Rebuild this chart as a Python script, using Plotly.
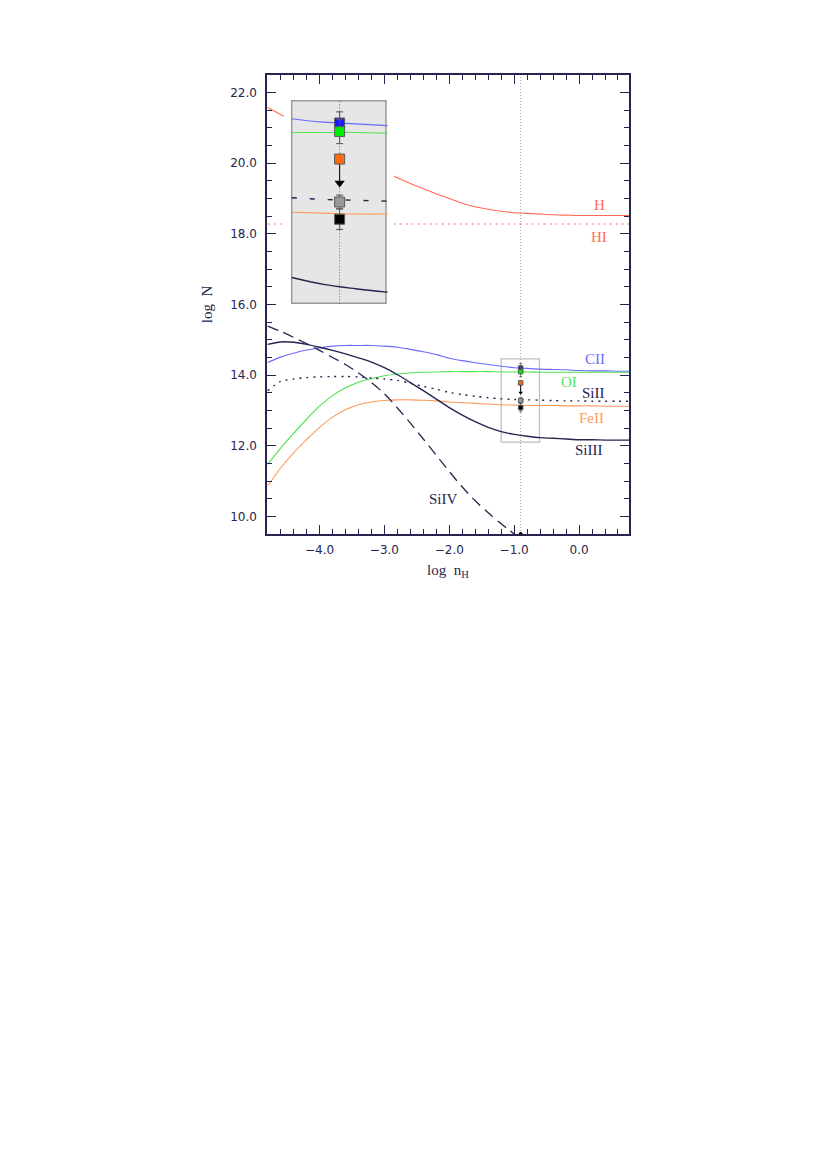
import plotly.graph_objects as go

# ---------------------------------------------------------------------------
# Colours
# ---------------------------------------------------------------------------
NAVY = "#25254f"
C_BLUE = "#6a6aff"
O_GREEN = "#4fe34f"
FE_ORANGE = "#ff9a5c"
H_RED = "#ff6a55"
FONT = "Liberation Serif"
TICK_FONT = "DejaVu Sans"

# ---------------------------------------------------------------------------
# Data: model column densities vs hydrogen density
# ---------------------------------------------------------------------------
LOG_NH = [-4.8, -4.6, -4.4, -4.2, -4.0, -3.8, -3.6, -3.4, -3.2, -3.0,
          -2.8, -2.6, -2.4, -2.2, -2.0, -1.8, -1.6, -1.4, -1.2, -1.0,
          -0.8, -0.6, -0.4, -0.2, 0.0, 0.2, 0.4, 0.6, 0.8]

N_H = [21.58, 21.38, 21.18, 20.98, 20.78, 20.58, 20.38, 20.18, 19.96, 19.76,
       19.59, 19.43, 19.28, 19.13, 19.00, 18.87, 18.77, 18.70, 18.64, 18.60,
       18.58, 18.56, 18.54, 18.53, 18.52, 18.52, 18.52, 18.52, 18.52]
N_HI = [18.28, 18.28, 18.28, 18.28, 18.28, 18.28, 18.28, 18.28, 18.28, 18.28,
        18.28, 18.28, 18.28, 18.28, 18.28, 18.28, 18.28, 18.28, 18.28, 18.28,
        18.28, 18.28, 18.28, 18.28, 18.28, 18.28, 18.28, 18.28, 18.28]
N_CII = [14.36, 14.51, 14.62, 14.71, 14.77, 14.82, 14.84, 14.84, 14.84, 14.82,
         14.79, 14.73, 14.66, 14.58, 14.48, 14.41, 14.35, 14.30, 14.25, 14.21,
         14.19, 14.17, 14.16, 14.15, 14.13, 14.12, 14.12, 14.11, 14.11]
N_OI = [11.47, 11.93, 12.35, 12.75, 13.12, 13.42, 13.64, 13.80, 13.90, 13.98,
        14.03, 14.06, 14.08, 14.09, 14.10, 14.10, 14.10, 14.10, 14.09, 14.09,
        14.09, 14.08, 14.08, 14.08, 14.08, 14.08, 14.08, 14.08, 14.08]
N_SIII = [13.56, 13.82, 13.89, 13.93, 13.95, 13.96, 13.96, 13.95, 13.92, 13.89,
          13.85, 13.77, 13.68, 13.60, 13.51, 13.45, 13.40, 13.36, 13.33, 13.31,
          13.30, 13.29, 13.28, 13.27, 13.27, 13.26, 13.26, 13.26, 13.26]
N_FEII = [10.86, 11.37, 11.80, 12.17, 12.52, 12.81, 13.02, 13.16, 13.24, 13.28,
          13.30, 13.30, 13.29, 13.27, 13.24, 13.22, 13.20, 13.18, 13.16, 13.15,
          13.14, 13.14, 13.14, 13.13, 13.13, 13.13, 13.12, 13.12, 13.12]
N_SIIII = [14.87, 14.94, 14.93, 14.87, 14.79, 14.70, 14.60, 14.49, 14.37, 14.21,
           14.01, 13.79, 13.56, 13.32, 13.08, 12.87, 12.68, 12.52, 12.40, 12.32,
           12.27, 12.23, 12.21, 12.19, 12.17, 12.17, 12.16, 12.16, 12.16]

LOG_NH_SIIV = [-4.8, -4.6, -4.4, -4.2, -4.0, -3.8, -3.6, -3.4, -3.2, -3.0,
               -2.8, -2.6, -2.4, -2.2, -2.0, -1.8, -1.6, -1.4, -1.2, -1.0]
N_SIIV = [15.39, 15.24, 15.07, 14.89, 14.70, 14.50, 14.30, 14.06, 13.79, 13.47,
          13.07, 12.64, 12.19, 11.73, 11.27, 10.83, 10.44, 10.10, 9.79, 9.50]

# observed column densities at the adopted density
OBS_LOG_NH = -0.9
OBS_N = [14.20, 14.10, 13.78, 13.28, 13.08]
OBS_ERR = [0.13, 0.14, 0.0, 0.08, 0.12]
OBS_COLORS = ["#1a1aff", "#00ee00", "#ff6a10", "#999999", "#000000"]
OBS_LIMIT = 13.50

# ---------------------------------------------------------------------------
# Geometry
# ---------------------------------------------------------------------------
W, H = 830, 1174
M_L, M_R, M_T, M_B = 259, 209, 67, 648
PLOT_W = W - M_L - M_R
PLOT_H = H - M_T - M_B
X_RANGE = [-4.81, 0.77]
Y_RANGE = [9.5, 22.5]

ZOOM_X = [-1.20, -0.61]
ZOOM_Y = [12.10, 14.46]
INSET_X = [0.0682, 0.3287]
INSET_Y = [0.5026, 0.9440]
PAD = 8  # white margin round the inset, px

dx = (ZOOM_X[1] - ZOOM_X[0]) / ((INSET_X[1] - INSET_X[0]) * PLOT_W)
dy = (ZOOM_Y[1] - ZOOM_Y[0]) / ((INSET_Y[1] - INSET_Y[0]) * PLOT_H)
X2_RANGE = [ZOOM_X[0] - PAD * dx, ZOOM_X[1] + PAD * dx]
Y2_RANGE = [ZOOM_Y[0] - PAD * dy, ZOOM_Y[1] + PAD * dy]
X2_DOMAIN = [INSET_X[0] - PAD / PLOT_W, INSET_X[1] + PAD / PLOT_W]
Y2_DOMAIN = [INSET_Y[0] - PAD / PLOT_H, INSET_Y[1] + PAD / PLOT_H]

fig = go.Figure()

curves = [
    (LOG_NH, N_H, H_RED, 1.1, "solid", False),
    (LOG_NH, N_HI, H_RED, 1.1, "2px,4px", False),
    (LOG_NH, N_CII, C_BLUE, 1.1, "solid", True),
    (LOG_NH, N_OI, O_GREEN, 1.1, "solid", True),
    (LOG_NH, N_SIII, NAVY, 1.4, "2px,5px", True),
    (LOG_NH, N_FEII, FE_ORANGE, 1.1, "solid", True),
    (LOG_NH, N_SIIII, NAVY, 1.4, "solid", True),
    (LOG_NH_SIIV, N_SIIV, NAVY, 1.3, "11px,6px", False),
]

for xs, ys, col, lw, dash, in_inset in curves:
    fig.add_trace(go.Scatter(
        x=xs, y=ys, mode="lines",
        line=dict(color=col, width=lw, dash=dash, shape="spline", smoothing=0.8),
        xaxis="x", yaxis="y", hoverinfo="skip",
    ))


def add_obs(xa, ya, msize, tri, ebw, ebt):
    fig.add_trace(go.Scatter(
        x=[OBS_LOG_NH, OBS_LOG_NH], y=[OBS_N[2], OBS_LIMIT], mode="lines",
        line=dict(color="black", width=1), xaxis=xa, yaxis=ya, hoverinfo="skip",
    ))
    fig.add_trace(go.Scatter(
        x=[OBS_LOG_NH], y=[OBS_LIMIT], mode="markers",
        marker=dict(symbol="triangle-down", size=tri, color="black"),
        xaxis=xa, yaxis=ya, hoverinfo="skip",
    ))
    for n, err, col in zip(OBS_N, OBS_ERR, OBS_COLORS):
        fig.add_trace(go.Scatter(
            x=[OBS_LOG_NH], y=[n], mode="markers",
            error_y=dict(type="data", array=[err], visible=err > 0,
                         color="#555555", thickness=ebt, width=ebw),
            marker=dict(symbol="square", size=msize, color=col,
                        line=dict(color="#5a5a5a", width=1)),
            xaxis=xa, yaxis=ya, hoverinfo="skip",
        ))


# main-panel measurements (small)
add_obs("x", "y", 4.5, 4, 1.5, 0.8)

fig.add_trace(go.Scatter(
    x=[OBS_LOG_NH], y=[Y_RANGE[0]], mode="markers",
    marker=dict(size=4, color="black"), cliponaxis=False,
    xaxis="x", yaxis="y", hoverinfo="skip",
))

# inset: zoom on the box round the measurements
inset_idx = [i for i, v in enumerate(LOG_NH) if ZOOM_X[0] <= v <= ZOOM_X[1] + 0.01]
fig.add_trace(go.Scatter(
    x=[OBS_LOG_NH, OBS_LOG_NH], y=ZOOM_Y, mode="lines",
    line=dict(color="#666666", width=1, dash="1px,2px"),
    xaxis="x2", yaxis="y2", hoverinfo="skip",
))
inset_dash = {"2px,5px": "5px,13px"}
for xs, ys, col, lw, dash, in_inset in curves:
    if not in_inset:
        continue
    fig.add_trace(go.Scatter(
        x=[xs[i] for i in inset_idx], y=[ys[i] for i in inset_idx], mode="lines",
        line=dict(color=col, width=lw, dash=inset_dash.get(dash, dash), shape="spline"),
        xaxis="x2", yaxis="y2", hoverinfo="skip",
    ))
add_obs("x2", "y2", 10, 9, 3.5, 1)

# ---------------------------------------------------------------------------
# Labels
# ---------------------------------------------------------------------------
labels = [
    ("H", 0.32, 18.81, H_RED),
    ("HI", 0.31, 17.90, H_RED),
    ("CII", 0.25, 14.46, C_BLUE),
    ("OI", -0.16, 13.81, O_GREEN),
    ("SiII", 0.22, 13.48, NAVY),
    ("FeII", 0.19, 12.79, FE_ORANGE),
    ("SiIII", 0.16, 11.89, NAVY),
    ("SiIV", -2.09, 10.49, NAVY),
]
for txt, lx, ly, col in labels:
    fig.add_annotation(x=lx, y=ly, xref="x", yref="y", text=txt, showarrow=False,
                       font=dict(family=FONT, size=15, color=col))

fig.add_shape(type="line", xref="x", yref="y domain", x0=OBS_LOG_NH, x1=OBS_LOG_NH,
              y0=0, y1=1, line=dict(color="#888888", width=0.8, dash="1px,2px"),
              layer="below")
fig.add_shape(type="rect", xref="x", yref="y", x0=ZOOM_X[0], x1=ZOOM_X[1],
              y0=ZOOM_Y[0], y1=ZOOM_Y[1], line=dict(color="#bdbdbd", width=1.2),
              layer="below")
fig.add_shape(type="rect", xref="x2", yref="y2", x0=ZOOM_X[0], x1=ZOOM_X[1],
              y0=ZOOM_Y[0], y1=ZOOM_Y[1], fillcolor="#e6e6e6",
              line=dict(color="#9a9a9a", width=1.5), layer="below")

axis_common = dict(
    ticks="inside", tickcolor=NAVY, tickwidth=1.2, ticklen=9,
    showline=True, linecolor=NAVY, linewidth=1.5, mirror="allticks",
    showgrid=False, zeroline=False, tickformat=".1f",
    tickfont=dict(family=TICK_FONT, size=12, color=NAVY),
)

fig.update_layout(
    width=W, height=H,
    margin=dict(l=M_L, r=M_R, t=M_T, b=M_B),
    paper_bgcolor="white", plot_bgcolor="white",
    showlegend=False,
    xaxis=dict(
        range=X_RANGE, tickmode="linear", tick0=0, dtick=1,
        minor=dict(ticks="inside", tick0=0, dtick=0.2, ticklen=5, tickcolor=NAVY, tickwidth=1),
        title=dict(text="log  n<sub>H</sub>", font=dict(family=FONT, size=15, color=NAVY),
                   standoff=8),
        ticklabelstandoff=4,
        **axis_common,
    ),
    yaxis=dict(
        range=Y_RANGE, tickmode="linear", tick0=0, dtick=2,
        minor=dict(ticks="inside", tick0=0, dtick=0.5, ticklen=5, tickcolor=NAVY, tickwidth=1),
        title=dict(text="log  N", font=dict(family=FONT, size=15, color=NAVY), standoff=14),
        ticklabelstandoff=6,
        **axis_common,
    ),
    xaxis2=dict(domain=X2_DOMAIN, range=X2_RANGE, anchor="y2", visible=False),
    yaxis2=dict(domain=Y2_DOMAIN, range=Y2_RANGE, anchor="x2", visible=False),
)

fig.write_html("out.html")
